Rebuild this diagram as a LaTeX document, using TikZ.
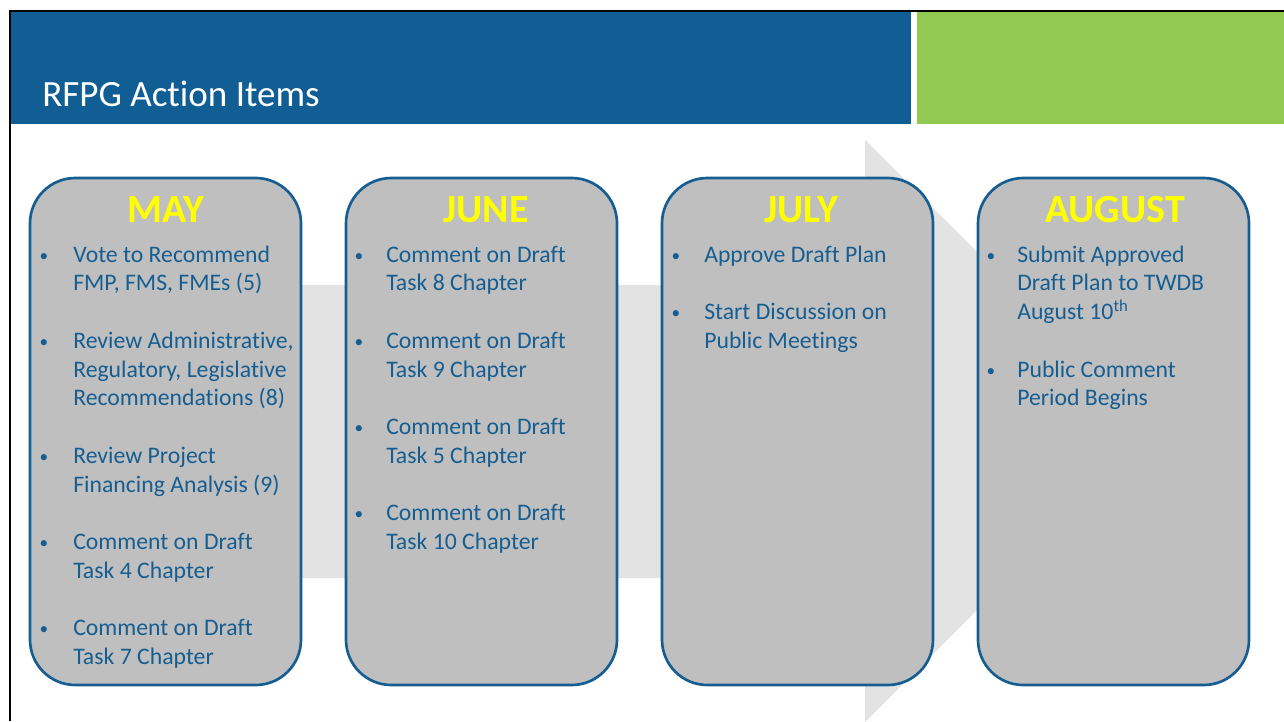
\documentclass[tikz,border=0pt]{standalone}
\usepackage{fontspec}
\setmainfont{Carlito}[Ligatures={NoCommon}]
\definecolor{hdrblue}{RGB}{16,94,147}
\definecolor{hdrgreen}{RGB}{146,201,82}
\definecolor{txtblue}{RGB}{22,94,145}
\definecolor{boxgray}{RGB}{191,191,191}
\definecolor{arrowgray}{RGB}{227,227,227}
\definecolor{myyellow}{RGB}{255,255,0}
\begin{document}
\begin{tikzpicture}[x=0.75pt,y=-0.75pt,
  monthbox/.style={rounded corners=34pt, draw=txtblue, line width=2pt, fill=boxgray,
    minimum width=203.25pt, minimum height=380.25pt, inner sep=0},
  mtitle/.style={font=\bfseries\fontsize{30}{36}\selectfont, text=myyellow, anchor=base, inner sep=0},
  itemtext/.style={font=\fontsize{17.8}{21}\selectfont, text=txtblue, anchor=base west, inner sep=0},
  bul/.style={font=\fontsize{13}{16}\selectfont, text=txtblue, anchor=base, inner sep=0}]
\useasboundingbox (0,0) rectangle (1284,721);
\fill[white] (0,0) rectangle (1284,721);
% header
\fill[hdrblue] (11,12) rectangle (911,124);
\fill[hdrgreen] (917,12) rectangle (1284,124);
\draw[line width=1.6pt] (10,11) -- (1284,11);
\draw[line width=2pt] (10,10) -- (10,721);
\node[anchor=base west, inner sep=0, text=white, font=\fontsize{27.8}{32}\selectfont] (title) at (42,106) {RFPG Action Items};
% background arrow
\fill[arrowgray] (100,285) -- (865,285) -- (865,140) -- (1156,431) -- (865,722) -- (865,578) -- (100,578) -- cycle;
% boxes
\node[monthbox] (may) at (165.5,431.5) {};
\node[monthbox] (june) at (481.5,431.5) {};
\node[monthbox] (july) at (797.5,431.5) {};
\node[monthbox] (aug) at (1113.5,431.5) {};
% titles
\node[mtitle] (maytitle) at (166,222) {MAY};
\node[mtitle] (junetitle) at (486,222) {JUNE};
\node[mtitle] (julytitle) at (801,222) {JULY};
\node[mtitle] (augtitle) at (1115,222) {AUGUST};
% MAY items
\foreach \r in {0,3,7,10,13} \node[bul] (maybul-\r) at (44,{261+28.75*\r}) {\textbullet};
\foreach \r/\t in {0/Vote to Recommend, 1/{FMP, FMS, FMEs (5)}, 3/{Review Administrative,}, 4/{Regulatory, Legislative}, 5/Recommendations (8), 7/Review Project, 8/Financing Analysis (9), 10/Comment on Draft, 11/Task 4 Chapter, 13/Comment on Draft, 14/Task 7 Chapter}
  \node[itemtext] (may-\r) at (73,{262+28.75*\r}) {\t};
% JUNE items
\foreach \r in {0,3,6,9} \node[bul] (junebul-\r) at (359,{261+28.75*\r}) {\textbullet};
\foreach \r/\t in {0/Comment on Draft, 1/Task 8 Chapter, 3/Comment on Draft, 4/Task 9 Chapter, 6/Comment on Draft, 7/Task 5 Chapter, 9/Comment on Draft, 10/Task 10 Chapter}
  \node[itemtext] (june-\r) at (386,{262+28.75*\r}) {\t};
% JULY items
\foreach \r in {0,2} \node[bul] (julybul-\r) at (676,{261+28.75*\r}) {\textbullet};
\foreach \r/\t in {0/Approve Draft Plan, 2/Start Discussion on, 3/Public Meetings}
  \node[itemtext] (july-\r) at (704,{262+28.75*\r}) {\t};
% AUGUST items
\foreach \r in {0,4} \node[bul] (augbul-\r) at (991,{261+28.75*\r}) {\textbullet};
\foreach \r/\t in {0/Submit Approved, 1/Draft Plan to TWDB, 2/{August 10\textsuperscript{th}}, 4/Public Comment, 5/Period Begins}
  \node[itemtext] (aug-\r) at (1017,{262+28.75*\r}) {\t};
\end{tikzpicture}
\end{document}
